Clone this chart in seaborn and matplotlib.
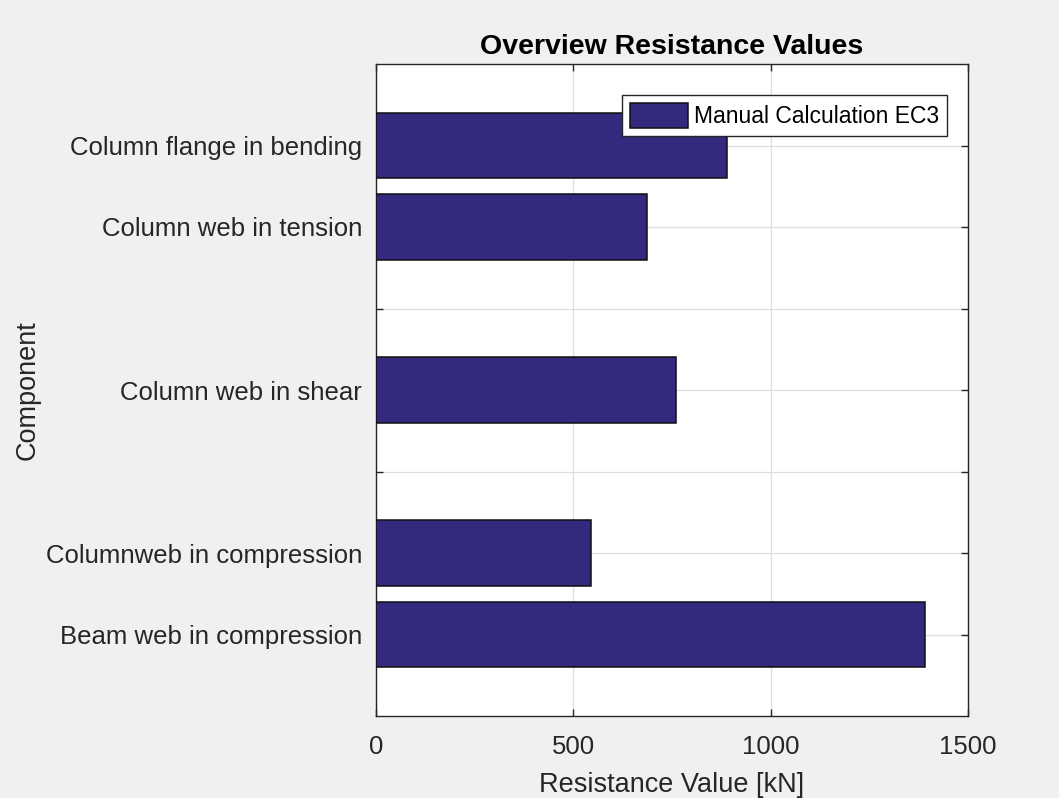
import matplotlib
matplotlib.use("Agg")
import matplotlib.pyplot as plt
import seaborn as sns

# Component resistance values [kN] from the manual EC3 calculation
components = [
    "Column flange in bending",
    "Column web in tension",
    "Column web in shear",
    "Columnweb in compression",
    "Beam web in compression",
]
resistance = [890, 687, 760, 545, 1390]

# Y tick slots, bottom to top (blank slots separate the groups)
tick_labels = [
    "Beam web in compression",
    "Columnweb in compression",
    "",
    "Column web in shear",
    "",
    "Column web in tension",
    "Column flange in bending",
]
x_ticks = [0, 500, 1000, 1500]
series_name = "Manual Calculation EC3"

sns.set_theme(style="white")
plt.rcParams["font.family"] = ["Liberation Sans", "DejaVu Sans"]

fig = plt.figure(figsize=(10.59, 7.98), dpi=100, facecolor="#f0f0f0")
ax = fig.add_axes([376 / 1059, 82 / 798, 592 / 1059, 652 / 798])
ax.set_facecolor("white")

slot_pos = [tick_labels.index(c) + 1 for c in components]

sns.barplot(
    x=resistance, y=slot_pos, orient="h", native_scale=True,
    color="#33297f", saturation=1, edgecolor="#111111", linewidth=1.1,
    width=0.8, label=series_name, ax=ax, zorder=3,
)

text_col = "#262626"
ax.set_xlim(0, 1500)
ax.set_ylim(0, len(tick_labels) + 1)
ax.set_xticks(x_ticks)
ax.set_xticklabels([str(v) for v in x_ticks], fontsize=18.5, color=text_col)
ax.set_yticks(range(1, len(tick_labels) + 1))
ax.set_yticklabels(tick_labels, fontsize=18.5, color=text_col)

ax.grid(True, color="#dedede", linewidth=0.9, zorder=0)
ax.set_axisbelow(True)
for s in ax.spines.values():
    s.set_color(text_col)
    s.set_linewidth(1.0)
    s.set_visible(True)
ax.tick_params(axis="both", direction="in", length=5, width=1.0, color=text_col,
               top=True, right=True, left=True, bottom=True)
ax.tick_params(axis="y", pad=10)
ax.tick_params(axis="x", pad=14)

ax.set_xlabel("Resistance Value [kN]", fontsize=19.5, color=text_col, labelpad=9)
ax.set_ylabel("Component", fontsize=19.5, color=text_col, labelpad=4)
ax.set_title("Overview Resistance Values", fontsize=20.5, fontweight="bold",
             color="black", pad=7)

leg = ax.legend(loc="upper right", bbox_to_anchor=(0.9645, 0.9525), fontsize=16.5,
                frameon=True, fancybox=False, framealpha=1, edgecolor="#262626",
                handlelength=2.55, handleheight=1.3, handletextpad=0.25,
                borderpad=0.35, borderaxespad=0)
leg.get_frame().set_linewidth(1.0)
for t in leg.get_texts():
    t.set_color("black")

fig.savefig("out.png", dpi=100, facecolor=fig.get_facecolor())
